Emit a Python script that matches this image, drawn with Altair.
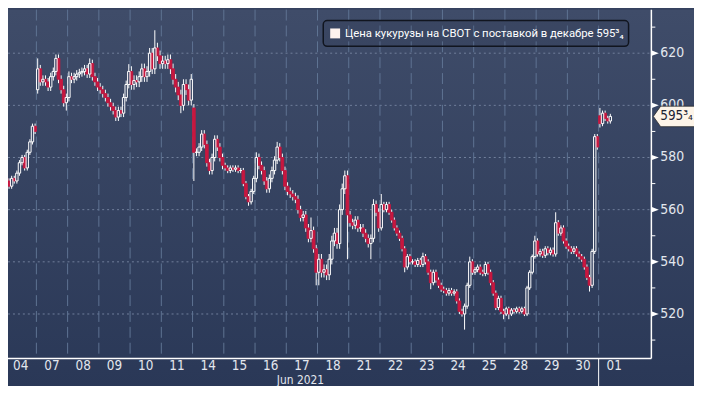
import altair as alt
import pandas as pd

# ---------------- data ----------------
days = ["04", "07", "08", "09", "10", "11", "14", "15", "16", "17",
        "18", "21", "22", "23", "24", "25", "28", "29", "30", "01"]

c04 = [571, 569, 572, 571, 574, 578, 580, 576, 582, 586, 592, 590]
c07 = [614, 609, 610, 609, 607, 611, 613, 618, 610, 606, 601, 603]
c08 = [611, 610, 611, 612, 612.5, 613, 614, 612, 616, 611, 609, 607]
c09 = [606, 604.5, 603, 601, 599.5, 598, 595.5, 598, 597, 603, 608, 613]
c10 = [608, 609.5, 609, 611, 614, 611, 613, 620, 614, 622, 619, 616]
c11 = [617, 616, 617.5, 614, 610, 607, 604, 600, 608, 606, 602, 610]
c14 = [582, 582, 584, 589, 585, 578, 575, 580, 587, 584, 580, 577]
c15 = [576, 575, 576, 575.5, 576, 575, 575, 570, 565, 563, 567, 572]
c16 = [580, 577, 575, 571, 568, 572, 575, 579, 584, 580, 575, 569]
c17 = [567, 566, 565, 564, 560, 557, 558, 553, 549, 552, 545, 536]
c18 = [541, 536, 537, 535, 541, 548, 551, 547, 560, 568, 573, 558]
c21 = [555, 554, 556, 553, 553, 551, 549, 547, 549, 562, 559, 553]
c22 = [562, 560, 562, 559, 556, 553, 551, 549, 545, 538, 542, 540]
c23 = [540, 539, 540.5, 539, 542, 540, 536, 532, 536, 533, 531, 529.5]
c24 = [529, 528, 529, 528, 528.5, 525, 521, 520, 523, 531, 540, 536]
c25 = [537, 538, 536, 535.5, 539, 536, 532, 528, 522.5, 526, 521, 520]
c28 = [522, 520, 521.5, 521, 522, 521, 522, 520, 530, 536, 542, 548]
c29 = [543, 544, 542.5, 545, 543.5, 544.5, 543, 555, 551, 553, 548, 546]
c30 = [545, 544, 545, 543, 542, 541, 538, 534, 531, 544, 588, 584]
c01 = [593, 597, 595, 594, 595.75]

day_closes = [c04, c07, c08, c09, c10, c11, c14, c15, c16, c17,
              c18, c21, c22, c23, c24, c25, c28, c29, c30, c01]

# typical wick length beyond the body, per day
day_wick = [1.0, 1.5, 1.5, 1.5, 2.0, 2.0, 1.5, 1.0, 1.5, 1.5,
            2.0, 1.5, 1.0, 1.0, 1.0, 1.0, 0.8, 1.0, 1.0, 1.0]

# opens that gap away from the previous close (candle number, open)
gap_idx = [0, 12, 72, 228]
gap_open = [572, 606, 599, 596]

# notable wicks (candle number, value)
hi_idx = [12, 19, 24, 32, 47, 53, 57, 75, 80, 96, 104, 117, 130, 141, 144,
          160, 178, 184, 189, 203, 211, 226, 228]
hi_val = [618, 619, 613, 618, 615.8, 616, 628.8, 590, 588.5, 582, 586, 557,
          575, 564, 566, 543.5, 542, 540, 527, 550, 559, 589, 599]
lo_idx = [1, 23, 42, 67, 72, 78, 93, 100, 119, 120, 131, 140, 153, 163, 176,
          191, 193, 224, 228]
lo_val = [568, 598, 594, 597, 571, 574, 561.5, 566.5, 531, 531, 541, 541,
          536, 529.5, 514, 518, 518, 528.6, 591.5]

grid_prices = [520, 540, 560, 580, 600, 620]
label_prices = ["520", "540", "560", "580", "600", "620"]
minor_prices = [510, 530, 550, 570, 590, 610, 630]
last_price = 595.75
last_label = "595³₄"
legend_text = "Цена кукурузы на CBOT с поставкой в декабре  595³₄"
month_text = "Jun 2021"

PER_DAY = 12

# ---------------- build table ----------------
rows = []
prev = None
n = 0
for i, closes in enumerate(day_closes):
    for k, c in enumerate(closes):
        o = gap_open[gap_idx.index(n)] if n in gap_idx else prev
        top, bot = max(o, c), min(o, c)
        h = top + day_wick[i]
        l = bot - day_wick[i]
        if n in hi_idx:
            h = max(h, hi_val[hi_idx.index(n)])
        if n in lo_idx:
            l = min(l, lo_val[lo_idx.index(n)])
        rows.append({"d": i + (k + 0.5) / PER_DAY, "o": o, "c": c, "h": h, "l": l,
                     "top": top, "bot": bot, "up": c >= o})
        prev = c
        n += 1
candles = pd.DataFrame(rows)
up_df = candles[candles["up"]]
dn_df = candles[~candles["up"]]

W, H = 649, 352
xs = alt.Scale(domain=[0.25, 20.53], nice=False, zero=False)
ys = alt.Scale(domain=[502.9, 636.7], nice=False, zero=False)

LABEL_FONT = "Liberation Sans Narrow, DejaVu Sans Condensed, Roboto"
LABEL_COLOR = "#e3e7ee"

one = pd.DataFrame({"a": [0]})


def X(f):
    return alt.X(f, scale=xs, axis=None, title=None)


def Y(f):
    return alt.Y(f, scale=ys, axis=None, title=None)


bg = alt.Chart(one).mark_rect(
    color=alt.Gradient(gradient="linear", x1=0, x2=0, y1=0, y2=1,
                       stops=[alt.GradientStop(color="#3f4c69", offset=0),
                              alt.GradientStop(color="#2a3857", offset=1)])
).encode(x=alt.value(0), x2=alt.value(W + 50), y=alt.value(0), y2=alt.value(H + 30))

hgrid = alt.Chart(pd.DataFrame({"v": grid_prices})).mark_rule(
    color="#71809c", strokeWidth=1, strokeDash=[2, 3]
).encode(y=Y("v:Q"), x=alt.value(0), x2=alt.value(W))

vgrid = alt.Chart(pd.DataFrame({"g": list(range(1, 20))})).mark_rule(
    color="#5f7393", strokeWidth=1, strokeDash=[11, 5]
).encode(x=X("g:Q"), y=alt.value(0), y2=alt.value(H))

month_sep = alt.Chart(pd.DataFrame({"g": [19]})).mark_rule(
    color="white", strokeWidth=1
).encode(x=X("g:Q"), y=alt.value(H), y2=alt.value(H + 30))

wick_hi = alt.Chart(candles).mark_rule(color="white", strokeWidth=1, clip=True).encode(
    x=X("d:Q"), y=Y("top:Q"), y2="h:Q")
wick_lo = alt.Chart(candles).mark_rule(color="white", strokeWidth=1, clip=True).encode(
    x=X("d:Q"), y=Y("l:Q"), y2="bot:Q")

body_up = alt.Chart(up_df).mark_bar(
    filled=False, color="white", strokeWidth=1, size=2.4, clip=True
).encode(x=X("d:Q"), y=Y("bot:Q"), y2="top:Q")

body_dn = alt.Chart(dn_df).mark_bar(
    color="#c8173f", stroke="#c8173f", strokeWidth=0.8, size=2.8, clip=True
).encode(x=X("d:Q"), y=Y("bot:Q"), y2="top:Q")

# ---- hand-drawn axes ----
x_domain = alt.Chart(one).mark_rule(color="white", strokeWidth=1.5).encode(
    x=alt.value(0), x2=alt.value(W), y=alt.value(H))
y_domain = alt.Chart(one).mark_rule(color="white", strokeWidth=1.5).encode(
    x=alt.value(W), y=alt.value(0), y2=alt.value(H))

x_labels = alt.Chart(pd.DataFrame({"d": [i + 0.5 for i in range(len(days))], "t": days})
                     ).mark_text(baseline="alphabetic", align="center", color=LABEL_COLOR,
                                 fontSize=13.5, font=LABEL_FONT).encode(
    x=X("d:Q"), y=alt.value(H + 11.5), text="t:N")

minor = alt.Chart(pd.DataFrame({"v": minor_prices})).mark_rule(
    color="white", strokeWidth=1).encode(y=Y("v:Q"), x=alt.value(W), x2=alt.value(W + 4))

tri = alt.Chart(pd.DataFrame({"v": grid_prices})).mark_point(
    shape="M-1,-0.75L1,0L-1,0.75Z", filled=True, color="white", size=49, opacity=1
).encode(y=Y("v:Q"), x=alt.value(W + 4))

y_labels = alt.Chart(pd.DataFrame({"v": grid_prices, "t": label_prices})).mark_text(
    align="left", baseline="middle", color=LABEL_COLOR, fontSize=14, font=LABEL_FONT
).encode(y=Y("v:Q"), x=alt.value(W + 9), text="t:N")

tag_df = pd.DataFrame({"p": [last_price], "t": [last_label]})
tag = alt.Chart(tag_df).mark_point(
    shape="M-1,0L-0.68,-0.45L1,-0.45L1,0.45L-0.68,0.45Z", filled=True,
    fill="#fdf4e8", stroke="#2b2b2b", strokeWidth=0.8, size=2116, opacity=1
).encode(y=Y("p:Q"), x=alt.value(W + 25))
tag_txt = alt.Chart(tag_df).mark_text(
    align="left", baseline="middle", color="#1c2233", fontSize=13.5, font=LABEL_FONT
).encode(y=Y("p:Q"), x=alt.value(W + 9), text="t:N")

leg_box = alt.Chart(one).mark_rect(
    cornerRadius=4, fill="#0b1020", fillOpacity=0.08, stroke="#11151f", strokeWidth=1.5
).encode(x=alt.value(318), x2=alt.value(626), y=alt.value(11), y2=alt.value(37))
leg_sq = alt.Chart(one).mark_rect(fill="#fff3ee").encode(
    x=alt.value(325), x2=alt.value(335), y=alt.value(19), y2=alt.value(29))
leg_txt = alt.Chart(pd.DataFrame({"t": [legend_text]})).mark_text(
    align="left", baseline="middle", color="white", fontSize=11.4, font="Roboto"
).encode(x=alt.value(340), y=alt.value(24.5), text="t:N")

month = alt.Chart(pd.DataFrame({"t": [month_text]})).mark_text(
    align="center", baseline="alphabetic", color=LABEL_COLOR, fontSize=12, font=LABEL_FONT
).encode(x=alt.value(295), y=alt.value(H + 26), text="t:N")

chart = alt.layer(
    bg, hgrid, vgrid, month_sep, wick_hi, wick_lo, body_dn, body_up,
    x_domain, y_domain, x_labels, minor, tri, y_labels, tag, tag_txt,
    leg_box, leg_sq, leg_txt, month
).properties(
    width=W, height=H,
    autosize=alt.AutoSizeParams(type="none"),
    padding={"left": 0, "top": 0, "right": 43, "bottom": 26},
).configure(background="#35425f").configure_view(stroke=None)

chart.save("out.html", embed_options={"renderer": "svg", "actions": False})
